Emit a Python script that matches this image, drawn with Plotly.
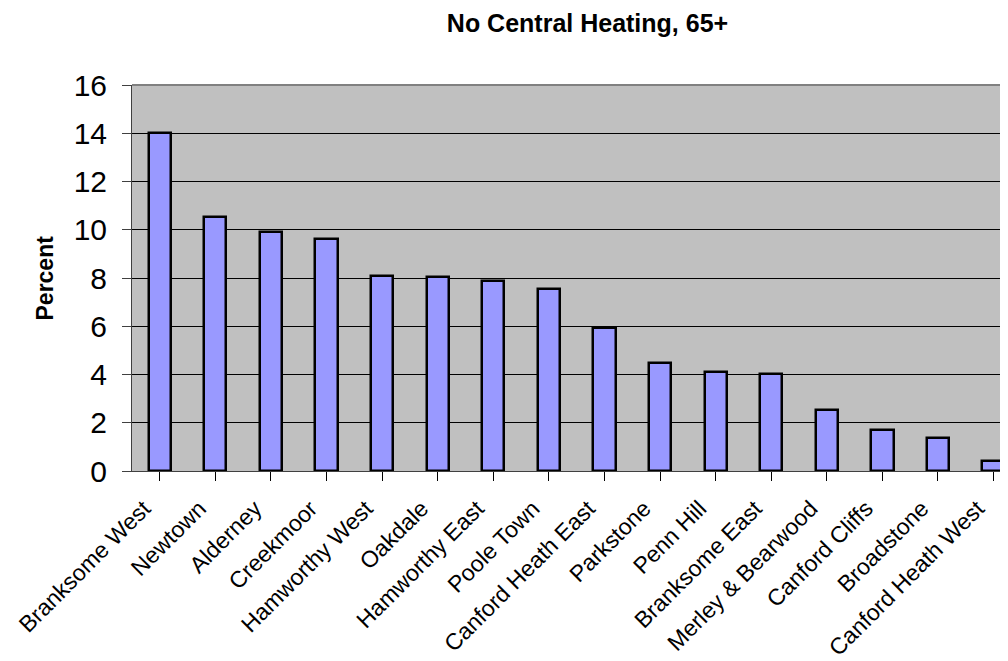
import plotly.graph_objects as go

categories = ["Branksome West", "Newtown", "Alderney", "Creekmoor", "Hamworthy West",
              "Oakdale", "Hamworthy East", "Poole Town", "Canford Heath East", "Parkstone",
              "Penn Hill", "Branksome East", "Merley & Bearwood", "Canford Cliffs",
              "Broadstone", "Canford Heath West"]
values = [14.0, 10.54, 9.92, 9.62, 8.07, 8.05, 7.88, 7.56, 5.92, 4.46,
          4.10, 4.03, 2.54, 1.70, 1.36, 0.40]
y_ticks = [0, 2, 4, 6, 8, 10, 12, 14, 16]

FONT = "Liberation Sans, Arial, sans-serif"

# the page body adds an 8px offset, so the figure is sized 1000x653
W, H = 1000, 653

fig = go.Figure()
fig.add_trace(go.Bar(
    x=list(range(len(categories))), y=values, width=0.40,
    marker=dict(color="#9999FF", line=dict(color="#000000", width=2.5)),
))

fig.update_layout(
    width=W, height=H,
    margin=dict(l=124, r=0, t=77, b=190, autoexpand=False),
    paper_bgcolor="white", plot_bgcolor="#C0C0C0",
    showlegend=False, bargap=0,
    font=dict(family=FONT, color="black"),
    title=dict(text="<b>No Central Heating, 65+</b>", font=dict(size=25, family=FONT),
               x=579.5 / W, xref="container", xanchor="center",
               y=1 - 6 / H, yref="container", yanchor="top"),
    annotations=[dict(text="<b>Percent</b>", textangle=-90, font=dict(size=23, family=FONT),
                      xref="paper", yref="paper", x=(44.5 - 132) / 876, y=0.5,
                      xanchor="center", yanchor="middle", showarrow=False)],
)

fig.update_xaxes(
    range=[-0.5, 15.26], tickmode="array",
    tickvals=list(range(len(categories))), ticktext=categories,
    tickangle=-45, tickfont=dict(size=23, family=FONT),
    ticks="outside", ticklen=9, tickcolor="#000000", tickson="boundaries",
    ticklabelshift=-16, ticklabelstandoff=5,
    showline=True, linecolor="#404040", linewidth=1, mirror=False,
    showgrid=False, zeroline=False,
)
fig.update_yaxes(
    range=[0, 16], tickvals=y_ticks, tickfont=dict(size=30, family=FONT),
    ticks="outside", ticklen=9, tickcolor="#404040", ticklabelstandoff=9,
    showline=True, linecolor="#404040", linewidth=1,
    showgrid=True, gridcolor="#000000", gridwidth=1, zeroline=False,
)
# grey top border of the plot area
fig.add_shape(type="line", xref="paper", yref="paper", x0=0, x1=1, y0=1, y1=1,
              line=dict(color="#808080", width=2))

fig.write_html("out.html")
